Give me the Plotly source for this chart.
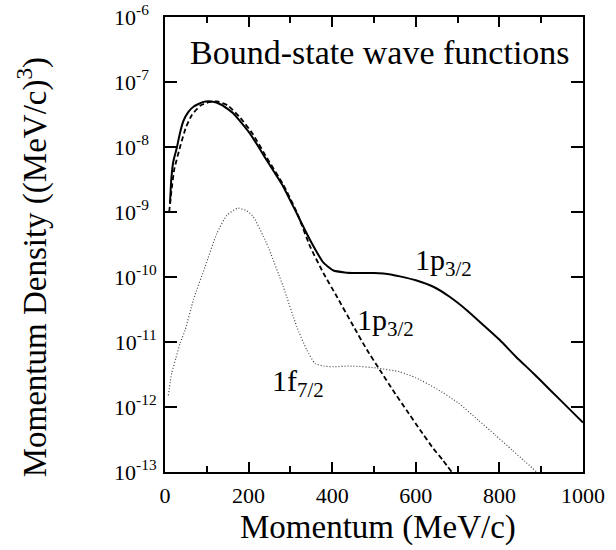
import plotly.graph_objects as go

# Momentum (MeV/c) and log10 of momentum density
x_total = [12, 15, 20, 28, 36, 44, 56, 68, 90, 112, 135, 163, 203, 243, 283, 315, 347, 379,
           403, 430, 458, 500, 540, 562, 600, 642, 680, 722, 760, 801, 840, 881, 920, 961, 1000]
log_total = [-8.87, -8.50, -8.22, -8.02, -7.78, -7.60, -7.46, -7.38, -7.31, -7.30, -7.35, -7.48,
             -7.79, -8.20, -8.61, -9.02, -9.43, -9.78, -9.90, -9.93, -9.94, -9.94, -9.96, -9.99,
             -10.05, -10.15, -10.30, -10.51, -10.73, -10.97, -11.23, -11.48, -11.73, -11.99, -12.24]

x_p32 = [10, 15, 22, 36, 50, 65, 85, 105, 125, 150, 180, 210, 243, 283, 315, 347, 379, 411,
         451, 483, 514, 545, 578, 610, 642, 665, 686]
log_p32 = [-9.00, -8.70, -8.35, -8.00, -7.70, -7.50, -7.36, -7.31, -7.30, -7.36, -7.55, -7.80,
           -8.16, -8.58, -9.00, -9.53, -9.94, -10.30, -10.76, -11.12, -11.43, -11.74, -12.05,
           -12.35, -12.64, -12.82, -13.00]

x_f72 = [8, 16, 26, 36, 48, 68, 96, 124, 148, 175, 195, 211, 243, 283, 315, 339, 359, 380,
         403, 450, 506, 562, 600, 650, 702, 749, 790, 830, 860, 889]
log_f72 = [-11.82, -11.48, -11.25, -11.02, -10.82, -10.35, -9.84, -9.33, -9.05, -8.94, -8.98,
           -9.07, -9.48, -10.15, -10.76, -11.12, -11.33, -11.37, -11.38, -11.37, -11.40, -11.46,
           -11.55, -11.72, -11.94, -12.20, -12.43, -12.66, -12.83, -13.00]

y_tick_exps = [-13, -12, -11, -10, -9, -8, -7, -6]
y_tick_vals = [10.0 ** e for e in y_tick_exps]
y_tick_text = ["10<sup>%d%s</sup>" % (e, "" if e <= -10 else "\u2007") for e in y_tick_exps]

FONT = "Liberation Serif"

fig = go.Figure()
fig.add_trace(go.Scatter(x=x_total, y=[10.0 ** v for v in log_total], mode="lines",
                         line=dict(color="black", width=2, shape="spline", smoothing=0.5)))
fig.add_trace(go.Scatter(x=x_p32, y=[10.0 ** v for v in log_p32], mode="lines",
                         line=dict(color="black", width=1.8, dash="5px,3px", shape="spline", smoothing=0.5)))
fig.add_trace(go.Scatter(x=x_f72, y=[10.0 ** v for v in log_f72], mode="lines",
                         line=dict(color="#444444", width=1.2, dash="1px,2px", shape="spline", smoothing=0.5)))

axis_common = dict(showline=True, linewidth=2, linecolor="black", mirror="allticks",
                   ticks="inside", tickwidth=2, tickcolor="black", showgrid=False, zeroline=False,
                   automargin=False, ticklabeloverflow="allow",
                   tickfont=dict(family=FONT, size=22, color="black"))

fig.update_xaxes(range=[0, 1000], tick0=0, dtick=200, ticklen=10, ticklabelstandoff=3,
                 minor=dict(ticks="inside", ticklen=6, tickwidth=2, tickcolor="black",
                            tick0=0, dtick=100, showgrid=False),
                 **axis_common)
fig.update_yaxes(type="log", range=[-13, -6], tickvals=y_tick_vals, ticktext=y_tick_text,
                 ticklen=12, ticklabelstandoff=2, **axis_common)

annotations = [
    dict(text="Bound-state wave functions", xref="paper", yref="paper", x=0.514, y=0.923,
         xanchor="center", yanchor="middle", showarrow=False,
         font=dict(family=FONT, size=34, color="black")),
    dict(text="Momentum (MeV/c)", xref="paper", yref="paper", x=0.51, y=-0.121,
         xanchor="center", yanchor="middle", showarrow=False,
         font=dict(family=FONT, size=33, color="black")),
    dict(text="Momentum Density ((MeV/c)<sup>3</sup>)", xref="paper", yref="paper",
         x=-0.318, y=0.45, xanchor="center", yanchor="middle", textangle=-90, showarrow=False,
         font=dict(family=FONT, size=33, color="black")),
    dict(text="1p<sub>3/2</sub>", x=593, y=-9.77, xanchor="left", yanchor="middle", showarrow=False,
         font=dict(family=FONT, size=30, color="black")),
    dict(text="1p<sub>3/2</sub>", x=455, y=-10.69, xanchor="left", yanchor="middle", showarrow=False,
         font=dict(family=FONT, size=30, color="black")),
    dict(text="1f<sub>7/2</sub>", x=251, y=-11.63, xanchor="left", yanchor="middle", showarrow=False,
         font=dict(family=FONT, size=30, color="black")),
]

fig.update_layout(width=616, height=550, margin=dict(l=165, r=33, t=17, b=78),
                  plot_bgcolor="white", paper_bgcolor="white", showlegend=False,
                  font=dict(family=FONT, color="black"), annotations=annotations)

# remove the default 8px page margin so the figure sits at the window's top-left corner
fig.write_html("out.html", config={"displayModeBar": False},
               post_script="document.body.style.margin='0';")
